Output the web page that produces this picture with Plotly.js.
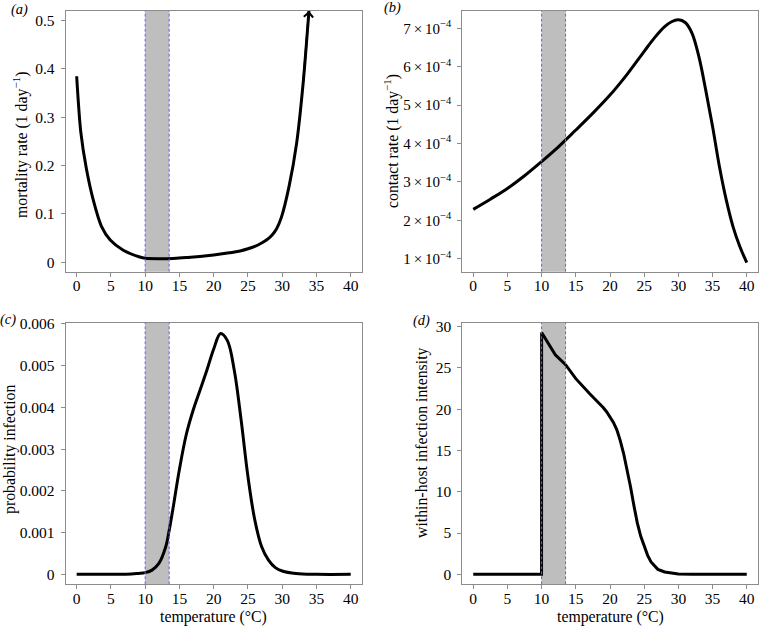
<!DOCTYPE html>
<html><head><meta charset="utf-8">
<script src="https://cdn.plot.ly/plotly-3.0.1.min.js"></script>
<style>html,body{margin:0;padding:0;background:#fff}</style>
</head><body><div id="chart" style="width:760px;height:626px"></div>
<script>
// ---- data ----
const mortT    = [0, 0.6, 1.4, 2.4, 3.6, 4.9, 6.8, 9.2, 10, 12, 14, 16, 18, 20, 22, 24, 25, 26, 27, 27.7, 28.5, 29.2, 29.9, 31, 32.1, 33.05, 33.9];
const mortRate = [0.385, 0.27, 0.195, 0.13, 0.075, 0.046, 0.025, 0.011, 0.0083, 0.0075, 0.008, 0.010, 0.012, 0.015, 0.019, 0.024, 0.028, 0.033, 0.040, 0.046, 0.056, 0.070, 0.094, 0.157, 0.246, 0.37, 0.52];

const contactT    = [0, 2.5, 5, 7.5, 10, 12.5, 15, 17.5, 20, 22.5, 25, 26.5, 28, 29, 30, 31, 32, 33, 34, 35, 36, 37, 38, 39, 40];
const contactRate = [2.285e-4, 2.55e-4, 2.83e-4, 3.16e-4, 3.53e-4, 3.92e-4, 4.35e-4, 4.79e-4, 5.26e-4, 5.80e-4, 6.40e-4, 6.75e-4, 7.04e-4, 7.17e-4, 7.22e-4, 7.15e-4, 6.87e-4, 6.26e-4, 5.39e-4, 4.44e-4, 3.40e-4, 2.53e-4, 1.83e-4, 1.31e-4, 0.90e-4];

const probT   = [0, 5, 8, 9, 10, 11, 12, 13, 13.5, 14, 15, 16, 17, 18, 19, 20, 21, 22, 23, 24, 25, 26, 27, 28, 29, 30, 32, 35, 40];
const probInf = [0, 0, 0.000005, 0.00002, 0.00004, 0.0001, 0.00026, 0.00066, 0.00105, 0.00152, 0.00252, 0.00335, 0.00393, 0.00441, 0.00489, 0.0054, 0.00577, 0.0056, 0.00489, 0.0037, 0.00234, 0.0013, 0.00066, 0.00034, 0.00016, 0.00008, 0.00002, 0, 0];

const intenT   = [0, 9.99, 10, 11, 12, 13.5, 15, 17, 18, 19, 19.5, 20, 20.5, 21, 21.5, 22, 22.5, 23, 23.5, 24, 24.5, 25, 25.5, 26, 27, 28, 29, 30, 32, 35, 40];
const intensity= [0, 0, 29.3, 27.9, 26.6, 25.4, 23.7, 21.9, 21.1, 20.2, 19.7, 19.1, 18.4, 17.5, 16.2, 14.6, 12.7, 10.6, 8.3, 6.2, 4.6, 3.35, 2.3, 1.5, 0.6, 0.28, 0.12, 0.05, 0.01, 0, 0];

const bandRange = [10, 13.5];
const xTicks = [0, 5, 10, 15, 20, 25, 30, 35, 40];
const yTicksA = [0, 0.1, 0.2, 0.3, 0.4, 0.5];
const yTickTextA = ['0', '0.1', '0.2', '0.3', '0.4', '0.5'];
const yTicksB = [1e-4, 2e-4, 3e-4, 4e-4, 5e-4, 6e-4, 7e-4];
const yTickTextB = ['1\u2009×\u200910<sup>−4</sup>','2\u2009×\u200910<sup>−4</sup>','3\u2009×\u200910<sup>−4</sup>','4\u2009×\u200910<sup>−4</sup>','5\u2009×\u200910<sup>−4</sup>','6\u2009×\u200910<sup>−4</sup>','7\u2009×\u200910<sup>−4</sup>'];
const yTicksC = [0, 0.001, 0.002, 0.003, 0.004, 0.005, 0.006];
const yTickTextC = ['0', '0.001', '0.002', '0.003', '0.004', '0.005', '0.006'];
const yTicksD = [0, 5, 10, 15, 20, 25, 30];
const yTickTextD = ['0', '5', '10', '15', '20', '25', '30'];
const panelLabels = ['(a)', '(b)', '(c)', '(d)'];
const yTitles = ['mortality rate (1 day<sup>−1</sup>)', 'contact rate (1 day<sup>−1</sup>)', 'probability infection', 'within-host infection intensity'];
const xTitle = 'temperature (°C)';

// ---- layout ----
const FONT = "'Liberation Serif', serif";
const W = 760, H = 626;
const dx = [[65.7/W, 361.7/W], [462.3/W, 757.7/W]];
const dy = [[1 - 271.7/H, 1 - 11/H], [1 - 584.3/H, 1 - 322.7/H]];

function xax(dom, anchor) {
  return {domain: dom, anchor: anchor, range: [-1.6, 41.6], tickvals: xTicks, ticktext: xTicks.map(String),
    showgrid: false, zeroline: false, showline: true, mirror: true, linecolor: '#8c8c8c', linewidth: 1,
    ticks: 'outside', ticklen: 4, tickcolor: '#8c8c8c', tickfont: {family: FONT, size: 15.5, color: '#000'}, ticklabelstandoff: -4};
}
function yax(dom, anchor, range, vals, text, size) {
  return {domain: dom, anchor: anchor, range: range, tickvals: vals, ticktext: text,
    showgrid: false, zeroline: false, showline: true, mirror: true, linecolor: '#8c8c8c', linewidth: 1,
    ticks: 'outside', ticklen: 4, tickcolor: '#8c8c8c', tickfont: {family: FONT, size: size || 15.5, color: '#000'}, ticklabelstandoff: 3};
}

const line = {color: '#000', width: 3};
const traces = [
  {x: mortT, y: mortRate, xaxis: 'x', yaxis: 'y', mode: 'lines', line: Object.assign({shape: 'spline', smoothing: 0.8}, line)},
  {x: contactT, y: contactRate, xaxis: 'x2', yaxis: 'y2', mode: 'lines', line: Object.assign({shape: 'spline', smoothing: 1}, line)},
  {x: probT, y: probInf, xaxis: 'x3', yaxis: 'y3', mode: 'lines', line: Object.assign({shape: 'spline', smoothing: 1}, line)},
  {x: intenT, y: intensity, xaxis: 'x4', yaxis: 'y4', mode: 'lines', line: Object.assign({shape: 'linear'}, line)}
];

const shapes = [];
['', '2', '3', '4'].forEach(function (s) {
  shapes.push({type: 'rect', xref: 'x' + s, yref: 'y' + s + ' domain', x0: bandRange[0], x1: bandRange[1], y0: 0, y1: 1,
    fillcolor: '#bebebe', line: {width: 0}, layer: 'below'});
  bandRange.forEach(function (b) {
    shapes.push({type: 'line', xref: 'x' + s, yref: 'y' + s + ' domain', x0: b, x1: b, y0: 0, y1: 1,
      line: {color: 'rgb(95,95,255)', width: 1, dash: '3px,2px'}, layer: 'above'});
  });
});

function txt(x, y, text, size, extra) {
  return Object.assign({xref: 'paper', yref: 'paper', x: x, y: y, xanchor: 'center', yanchor: 'middle',
    text: text, showarrow: false, font: {family: FONT, size: size, color: '#000'}}, extra || {});
}

const TS = 15.8;
const n = mortT.length;
const annotations = [
  {xref: 'x', yref: 'y', x: mortT[n-1], y: mortRate[n-1], axref: 'x', ayref: 'y', ax: mortT[n-2], ay: mortRate[n-2],
   showarrow: true, arrowhead: 4, arrowsize: 0.9, arrowwidth: 2, arrowcolor: '#000', text: ''},
  txt(19/W, 1 - 9/H, panelLabels[0], 14, {font: {family: FONT, size: 14.5, style: 'italic', color: '#000'}}),
  txt(392/W, 1 - 8/H, panelLabels[1], 14, {font: {family: FONT, size: 14.5, style: 'italic', color: '#000'}}),
  txt(8/W, 1 - 319/H, panelLabels[2], 14, {font: {family: FONT, size: 14.5, style: 'italic', color: '#000'}}),
  txt(421/W, 1 - 320/H, panelLabels[3], 14, {font: {family: FONT, size: 14.5, style: 'italic', color: '#000'}}),
  txt(20/W, 1 - 145/H, yTitles[0], TS, {textangle: -90}),
  txt(391/W, 1 - 141/H, yTitles[1], TS, {textangle: -90}),
  txt(10/W, 1 - 449/H, yTitles[2], TS, {textangle: -90}),
  txt(422/W, 1 - 442/H, yTitles[3], TS, {textangle: -90}),
  txt((dx[0][0] + dx[0][1]) / 2, 1 - 617/H, xTitle, TS),
  txt((dx[1][0] + dx[1][1]) / 2, 1 - 617/H, xTitle, TS)
];

const layout = {
  width: W, height: H, margin: {l: 0, r: 0, t: 0, b: 0}, showlegend: false,
  paper_bgcolor: '#fff', plot_bgcolor: '#fff', font: {family: FONT, color: '#000'},
  xaxis: xax(dx[0], 'y'), xaxis2: xax(dx[1], 'y2'), xaxis3: xax(dx[0], 'y3'), xaxis4: xax(dx[1], 'y4'),
  yaxis: yax(dy[0], 'x', [-0.0195, 0.52], yTicksA, yTickTextA),
  yaxis2: yax(dy[0], 'x2', [0.661e-4, 7.45e-4], yTicksB, yTickTextB, 15),
  yaxis3: yax(dy[1], 'x3', [-0.00024, 0.00603], yTicksC, yTickTextC),
  yaxis4: yax(dy[1], 'x4', [-1.21, 30.48], yTicksD, yTickTextD),
  shapes: shapes, annotations: annotations
};

Plotly.newPlot('chart', traces, layout, {staticPlot: true, displayModeBar: false});
</script>
</body></html>
